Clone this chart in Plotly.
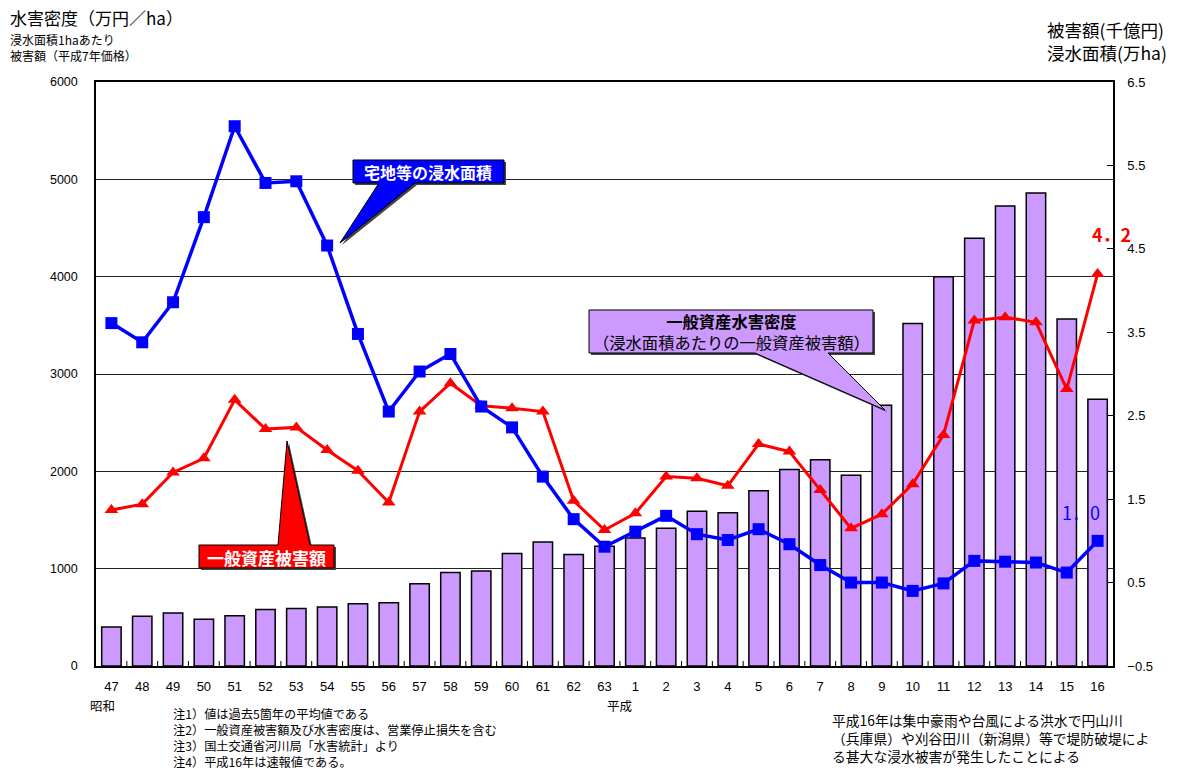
import plotly.graph_objects as go

# Fiscal years: Showa 47-63, then Heisei 1-16
years = ["47", "48", "49", "50", "51", "52", "53", "54", "55", "56", "57",
         "58", "59", "60", "61", "62", "63",
         "1", "2", "3", "4", "5", "6", "7", "8", "9", "10",
         "11", "12", "13", "14", "15", "16"]

# General-asset flood damage density (10k yen / ha), left axis
density = [400, 510, 545, 480, 515, 580, 590, 605, 640, 650, 845,
           960, 975, 1155, 1275, 1145, 1230,
           1315, 1415, 1590, 1575, 1800, 2020, 2120, 1960, 2680, 3520,
           4000, 4395, 4725, 4860, 3565, 2740]

# General-asset damage (100 billion yen), right axis
damage = [1.37, 1.44, 1.82, 1.99, 2.69, 2.34, 2.36, 2.09, 1.84, 1.46, 2.55,
          2.89, 2.62, 2.59, 2.55, 1.48, 1.13,
          1.33, 1.77, 1.75, 1.66, 2.16, 2.07, 1.61, 1.15, 1.32, 1.68,
          2.27, 3.64, 3.68, 3.62, 2.82, 4.2]

# Inundated residential area (10k ha), right axis
area = [3.61, 3.38, 3.86, 4.88, 5.97, 5.29, 5.31, 4.54, 3.48, 2.55, 3.03,
        3.24, 2.61, 2.36, 1.77, 1.26, 0.93,
        1.11, 1.30, 1.08, 1.01, 1.14, 0.96, 0.71, 0.50, 0.50, 0.40,
        0.49, 0.76, 0.75, 0.74, 0.62, 1.0]

left_ticks = [0, 1000, 2000, 3000, 4000, 5000, 6000]
right_ticks = [-0.5, 0.5, 1.5, 2.5, 3.5, 4.5, 5.5, 6.5]

W, H = 1184, 772
L, R, T, B = 96, 1113, 82, 666

JP = "Noto Sans CJK JP"
NUM = "Liberation Sans, Arial, sans-serif"


def px(x):
    return (x - L) / (R - L)


def py(y):
    return (B - y) / (B - T)


def path(points):
    return "M " + " L ".join(f"{px(x):.5f},{py(y):.5f}" for x, y in points) + " Z"


idx = list(range(len(years)))

fig = go.Figure()

fig.add_trace(go.Bar(
    x=idx, y=density, yaxis="y",
    marker=dict(color="#CC99FF", line=dict(color="#000000", width=1.5)),
    hoverinfo="skip",
))

fig.add_trace(go.Scatter(
    x=idx, y=damage, yaxis="y2", mode="lines+markers",
    line=dict(color="#FF0000", width=3),
    marker=dict(symbol="triangle-up", size=12, color="#FF0000"),
))

fig.add_trace(go.Scatter(
    x=idx, y=area, yaxis="y2", mode="lines+markers",
    line=dict(color="#0000FF", width=3.5),
    marker=dict(symbol="square", size=12, color="#0000FF"),
))

# Callout balloons (box + pointer drawn as one outline)
callouts = [
    ([(353, 160), (504, 160), (504, 183), (415, 183), (340, 243), (379, 183), (353, 183)], "#0000FF"),
    ([(199, 545), (278, 545), (287, 441), (310, 545), (334, 545), (334, 568), (199, 568)], "#FF0000"),
    ([(589, 310), (873, 310), (873, 353), (828, 353), (885, 410), (755, 353), (589, 353)], "#CC99FF"),
]
shapes = []
for pts, fill in callouts:
    shadow = [(x + 2, y + 2) for x, y in pts]
    shapes.append(dict(type="path", xref="paper", yref="paper", path=path(shadow),
                       fillcolor="#444444", line=dict(width=0), layer="above"))
    shapes.append(dict(type="path", xref="paper", yref="paper", path=path(pts),
                       fillcolor=fill, line=dict(color="#000000", width=1), layer="above"))

# Category boundary ticks along the bottom axis
for i in range(1, len(years)):
    shapes.append(dict(type="line", xref="x", yref="paper", x0=i - 0.5, x1=i - 0.5,
                       y0=0, y1=py(B - 5), line=dict(color="#000000", width=1)))

annotations = []


def note(text, x, y, size, color="#000000", xanchor="left", yanchor="middle", font=JP):
    annotations.append(dict(
        text=text, xref="paper", yref="paper", x=px(x), y=py(y),
        xanchor=xanchor, yanchor=yanchor, align="left" if xanchor == "left" else "center",
        showarrow=False, borderpad=0,
        font=dict(family=font, size=size, color=color),
    ))


# Callout texts
note("<b>宅地等の浸水面積</b>", 428, 172, 16, "#FFFFFF", "center")
note("<b>一般資産被害額</b>", 266, 557, 17, "#FFFFFF", "center")
note("<b>一般資産水害密度</b><br>（浸水面積あたりの一般資産被害額）", 731, 331.5, 16.3,
     "#000000", "center")

# Axis titles
note("水害密度（万円／ha）", 9, 17, 17)
note("浸水面積1haあたり<br>被害額（平成7年価格）", 9, 30, 12, yanchor="top")
note("被害額(千億円)<br>浸水面積(万ha)", 1046, 41, 17.5)

# Era labels under the first year of each era
note("昭和", 89, 705, 12.5)
note("平成", 606, 705, 12.5)

# Footnotes
foot = ["注1）値は過去5箇年の平均値である",
        "注2）一般資産被害額及び水害密度は、営業停止損失を含む",
        "注3）国土交通省河川局「水害統計」より",
        "注4）平成16年は速報値である。"]
note("<br>".join(foot), 172, 704, 12.2, yanchor="top")

remark = ["平成16年は集中豪雨や台風による洪水で円山川",
          "（兵庫県）や刈谷田川（新潟県）等で堤防破堤によ",
          "る甚大な浸水被害が発生したことによる"]
note("<br>".join(remark), 831, 709, 13.8, yanchor="top")

# Value labels for the latest year
last = len(years) - 1
annotations.append(dict(
    x=last, y=damage[-1], xref="x", yref="y2",
    text=f"<b>{damage[-1]:.1f}</b>".replace(".", "．"),
    showarrow=False, xshift=14, yshift=40, borderpad=0,
    font=dict(family=JP, size=18, color="#FF0000"),
))
annotations.append(dict(
    x=last, y=area[-1], xref="x", yref="y2",
    text=f"{area[-1]:.1f}".replace(".", "．"),
    showarrow=False, xshift=-17, yshift=29, borderpad=0,
    font=dict(family=JP, size=18, color="#0000FF"),
))

fig.update_layout(
    width=W, height=H,
    margin=dict(l=L, r=W - R, t=T, b=H - B, autoexpand=False),
    paper_bgcolor="#FFFFFF", plot_bgcolor="#FFFFFF",
    showlegend=False, bargap=0.37,
    font=dict(family=NUM, size=13, color="#000000"),
    xaxis=dict(
        range=[-0.5, len(years) - 0.5],
        tickvals=idx, ticktext=years,
        showline=True, linecolor="#000000", linewidth=1.5, mirror=True,
        ticks="", showgrid=False, zeroline=False, ticklabelstandoff=8,
        tickfont=dict(family=NUM, size=13),
    ),
    yaxis=dict(
        range=[0, 6000], tickvals=left_ticks, ticktext=[str(v) for v in left_ticks],
        showline=True, linecolor="#000000", linewidth=1.5,
        showgrid=True, gridcolor="#222222", gridwidth=1, zeroline=False,
        ticks="", ticklabelstandoff=14,
        tickfont=dict(family=NUM, size=12.5),
    ),
    yaxis2=dict(
        range=[-0.5, 6.5], overlaying="y", side="right",
        tickvals=right_ticks, ticktext=[f"{v:.1f}".replace("-", "−") for v in right_ticks],
        showline=True, linecolor="#000000", linewidth=1.5,
        showgrid=False, zeroline=False,
        ticks="inside", ticklen=6, tickcolor="#000000", ticklabelstandoff=10,
        tickfont=dict(family=NUM, size=13),
    ),
    shapes=shapes,
    annotations=annotations,
)

fig.write_html("out.html")
